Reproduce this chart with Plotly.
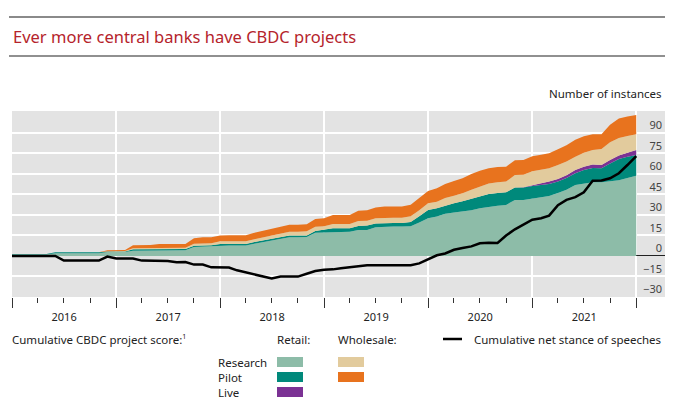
import pandas as pd
import plotly.graph_objects as go

# monthly observations, Jan 2016 - Jan 2022
months = pd.date_range("2016-01-01", "2022-01-01", freq="MS")

# cumulative CBDC project score, by type
retail_research = [1, 1, 1, 1, 1, 2, 2, 2, 2, 2, 2, 2.9, 2.9, 2.9, 3.9, 3.9, 3.9,
                   4.1, 4.1, 4.1, 4.1, 6.5, 6.8, 6.8, 7.6, 7.6, 7.6, 7.6, 9, 10.2,
                   11.5, 12.6, 13.7, 13.7, 13.8, 17, 17.2, 17.8, 17.8, 17.8, 18.9, 19,
                   21, 21.5, 21.5, 21.5, 21.8, 24.5, 27.6, 28.8, 30.8, 31.8, 32.6, 33.4,
                   34.9, 36.1, 36.8, 37.3, 41, 41, 42.1, 43, 43.9, 46, 48.5, 51.9, 53,
                   53.9, 53.9, 54.6, 55.4, 57, 58.7]
retail_pilot = [0.5, 0.5, 0.5, 0.5, 0.5, 0.7, 0.7, 0.7, 0.7, 0.7, 0.7, 0.4, 0.4, 0.4,
                1, 1, 1, 1, 1, 1, 1, 1, 1, 1, 1.2, 1.2, 1.2, 1.2, 1.3, 1.3, 1.3, 1.2,
                1.2, 1.2, 1.2, 1.3, 1.8, 2.4, 2.4, 2.4, 3.1, 3.2, 2.8, 2.6, 2.6, 2.6,
                3.1, 4.5, 6, 6.1, 6.1, 6.7, 7.4, 8.5, 8.5, 9.3, 9.3, 9.3, 9, 9, 9, 8.9,
                8.8, 8.4, 8.5, 8.6, 9.8, 10.5, 10.2, 13, 15.5, 15.5, 15.2]
retail_live = [0, 0, 0, 0, 0, 0, 0, 0, 0, 0, 0, 0, 0, 0, 0, 0, 0, 0, 0, 0, 0, 0, 0, 0,
               0, 0, 0, 0, 0, 0, 0, 0, 0, 0, 0, 0, 0, 0, 0, 0, 0, 0, 0, 0, 0, 0, 0, 0,
               0, 0, 0, 0, 0, 0, 0, 0, 0, 0, 0, 0.2, 0.7, 1.2, 1.7, 1.9, 2.1, 2.4, 2.5,
               2.5, 2.5, 2.6, 2.5, 3, 3.6]
wholesale_research = [0, 0, 0, 0, 0, 0, 0, 0, 0, 0, 0, 0.2, 0.3, 0.3, 0.8, 0.8, 0.8,
                      1, 1, 1, 1, 1.4, 1.5, 1.5, 1.9, 1.9, 1.9, 1.9, 2, 2.2, 2.5, 2.7,
                      2.9, 2.9, 3, 3, 2.8, 3.2, 3.2, 3.2, 3.5, 3.6, 3.8, 3.9, 3.9, 3.9,
                      4.1, 4.5, 4.9, 4.8, 5.5, 5.6, 5.8, 6.5, 7.4, 7.6, 7.8, 7.8, 9.2,
                      9.2, 10.2, 10, 9.7, 10.2, 10, 9.7, 10.2, 10.6, 11.7, 13, 12.8,
                      12.2, 11.5]
wholesale_pilot = [0, 0, 0, 0, 0, 0, 0, 0, 0, 0, 0, 0.7, 0.8, 0.8, 2.1, 2.1, 2.3, 2.7,
                   2.7, 2.7, 2.7, 4, 4.4, 4.4, 4.3, 4.4, 4.4, 4.4, 4.6, 4.6, 4.8, 5,
                   5.1, 5.1, 5.2, 5.7, 5.7, 6.6, 6.6, 6.6, 7.5, 7.6, 7.9, 8.1, 8.1, 8.1,
                   8.4, 8.7, 9, 9.8, 10.2, 10.8, 11.1, 11.5, 11.6, 11.1, 11.1, 10.9,
                   10.8, 10.8, 11, 10.9, 11, 11.5, 11.9, 12.4, 12, 11.5, 10.7, 12.8,
                   14.3, 14.3, 14]
# cumulative net stance of speeches
speeches = [0, 0, 0, 0, 0, 0, -3.4, -3.4, -3.4, -3.4, -3.4, -0.5, -1.9, -1.9, -1.9,
            -3.4, -3.4, -3.4, -3.6, -4.6, -4.4, -6.3, -6.3, -8.3, -8.3, -8.5, -10.5,
            -12, -13.5, -15, -16.5, -15.1, -15.1, -15.1, -13, -11, -10, -9.8, -9,
            -8.3, -7.8, -6.8, -6.8, -6.8, -6.8, -6.8, -6.8, -5.4, -2.4, 0.5, 1.8,
            4.5, 5.8, 7, 9.3, 9.7, 9.5, 15, 19.5, 23, 26.5, 27.6, 29.5, 37.2, 41, 43,
            46.5, 55, 55.2, 56.8, 60.5, 66.5, 73]

y_ticks = [-30, -15, 0, 15, 30, 45, 60, 75, 90]

layers = [
    ("Retail research", retail_research, "#8dbca8"),
    ("Retail pilot", retail_pilot, "#00897b"),
    ("Retail live", retail_live, "#7b3294"),
    ("Wholesale research", wholesale_research, "#e2cb9d"),
    ("Wholesale pilot", wholesale_pilot, "#e8731e"),
]

W, H = 676, 417
L, R, T, B = 12, 11, 111, 120
FONT = "Noto Sans"


def px(x):
    return (x - L) / (W - L - R)


def py(y):
    return (H - B - y) / (H - T - B)


fig = go.Figure()
for name, vals, col in layers:
    fig.add_trace(go.Scatter(x=months, y=vals, name=name, stackgroup="cbdc",
                             mode="lines", line=dict(width=0, color=col),
                             fillcolor=col, showlegend=False))
fig.add_trace(go.Scatter(x=months, y=speeches, mode="lines",
                         line=dict(color="black", width=2.5), showlegend=False))

fig.update_layout(
    width=W, height=H,
    margin=dict(l=L, r=R, t=T, b=B),
    paper_bgcolor="white", plot_bgcolor="#e3e3e3",
    font=dict(family=FONT, size=11, color="#222"),
)
fig.update_xaxes(
    range=["2016-01-01", "2022-04-12"],
    dtick="M12", tick0="2016-01-01", ticklabelmode="period", tickformat="%Y",
    ticks="outside", ticklen=10, tickcolor="#333", tickwidth=1,
    showgrid=True, gridcolor="white", gridwidth=1.5,
    minor=dict(dtick="M3", tick0="2016-01-01", ticks="outside", ticklen=5,
               tickcolor="#333", showgrid=False),
    showline=False, zeroline=False, fixedrange=True,
)
fig.update_yaxes(
    range=[-30, 106], side="right", tickvals=y_ticks,
    ticklabelposition="inside top", ticks="",
    showgrid=True, gridcolor="white", gridwidth=1.5,
    zeroline=True, zerolinecolor="#222", zerolinewidth=1,
    showline=False, fixedrange=True,
)

# header rules and title
fig.add_shape(type="line", xref="paper", yref="paper", x0=px(9), x1=px(665),
              y0=py(17), y1=py(17), line=dict(color="#8a8a8a", width=2))
fig.add_shape(type="line", xref="paper", yref="paper", x0=px(9), x1=px(665),
              y0=py(56), y1=py(56), line=dict(color="#222", width=1.2))
fig.add_annotation(text="Ever more central banks have CBDC projects", xref="paper",
                   yref="paper", x=px(11), y=py(37), xanchor="left", yanchor="middle",
                   showarrow=False, font=dict(size=16.5, color="#b5232b"))
fig.add_annotation(text="Number of instances", xref="paper", yref="paper",
                   x=px(664), y=py(93), xanchor="right", yanchor="middle",
                   showarrow=False, font=dict(size=11.5, color="#222"))


# legend block
def label(text, x, y, anchor="left"):
    fig.add_annotation(text=text, xref="paper", yref="paper", x=px(x), y=py(y),
                       xanchor=anchor, yanchor="middle", showarrow=False,
                       font=dict(size=11.5, color="#222"))


def swatch(x, y, col):
    fig.add_shape(type="rect", xref="paper", yref="paper", x0=px(x), x1=px(x + 26),
                  y0=py(y + 5), y1=py(y - 5), fillcolor=col, line=dict(width=0))


label("Cumulative CBDC project score:<sup><span style='font-size:7px'>1</span></sup>",
      10, 339)
label("Retail:", 275, 339)
label("Wholesale:", 336, 339)
fig.add_shape(type="line", xref="paper", yref="paper", x0=px(443), x1=px(462),
              y0=py(339), y1=py(339), line=dict(color="black", width=2.5))
label("Cumulative net stance of speeches", 472, 339)
for i, row in enumerate(["Research", "Pilot", "Live"]):
    label(row, 216, 362 + 15 * i)
swatch(277, 362, layers[0][2])
swatch(277, 377, layers[1][2])
swatch(277, 392, layers[2][2])
swatch(338, 362, layers[3][2])
swatch(338, 377, layers[4][2])

# page has a default body margin; drop it so the figure sits at the window origin
fig.write_html("out.html", config={"displayModeBar": False},
               post_script="document.body.style.margin='0';")
